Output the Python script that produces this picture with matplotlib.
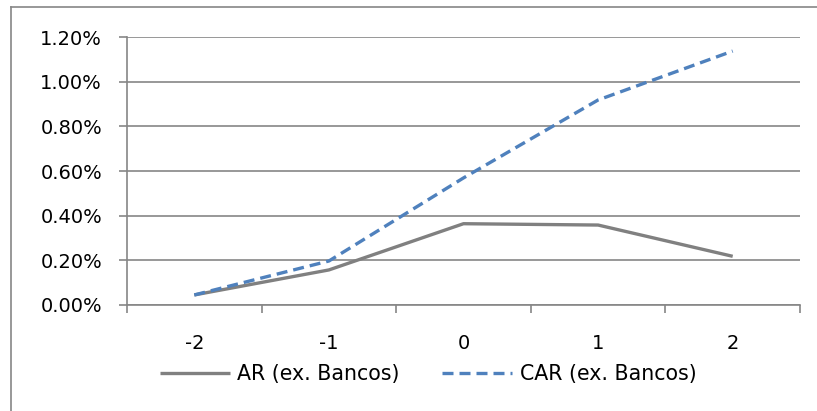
import numpy as np
import matplotlib.pyplot as plt
from matplotlib.lines import Line2D
from matplotlib.ticker import FuncFormatter, FixedLocator

days = ["-2", "-1", "0", "1", "2"]
ar_values = [0.045, 0.157, 0.364, 0.358, 0.218]
car_values = [0.045, 0.197, 0.569, 0.918, 1.137]

plt.rcParams['font.family'] = ['DejaVu Sans']

fig = plt.figure(figsize=(8.17, 4.11), dpi=100)
ax = fig.add_axes([127 / 817, 1 - 305 / 411, 673 / 817, 268 / 411])

x = np.arange(len(days))
ax.plot(x, ar_values, color="#808080", lw=2.4, solid_capstyle="butt",
        label="AR (ex. Bancos)")
ax.plot(x, car_values, color="#4F81BD", lw=2.4, linestyle=(0, (3.3, 1.8)),
        dash_capstyle="butt", label="CAR (ex. Bancos)")

ax.set_xlim(-0.5, len(days) - 0.5)
ax.set_ylim(0, 1.2)
ax.set_yticks(np.arange(0, 1.21, 0.2))
ax.yaxis.set_major_formatter(FuncFormatter(lambda v, p: f"{v:.2f}%"))
ax.grid(axis="y", color="#868686", lw=1.2)
ax.set_axisbelow(True)

# category labels centred, tick marks at category boundaries
ax.xaxis.set_major_locator(FixedLocator(np.arange(-0.5, len(days), 1.0)))
ax.xaxis.set_minor_locator(FixedLocator(x))
ax.set_xticklabels([])
ax.set_xticklabels(days, minor=True)
ax.tick_params(axis="x", which="major", length=6, width=1.2, color="#868686", direction="out")
ax.tick_params(axis="x", which="minor", length=0, pad=21, labelsize=14)
ax.tick_params(axis="y", length=6, width=1.2, color="#868686", labelsize=14, pad=12)

for s in ["top", "right"]:
    ax.spines[s].set_visible(False)
ax.spines["left"].set_color("#868686")
ax.spines["left"].set_linewidth(1.2)
ax.spines["bottom"].set_color("#868686")
ax.spines["bottom"].set_linewidth(1.2)

ax.legend(loc="center", bbox_to_anchor=((428 - 127) / 673, (305 - 374) / 268),
          ncol=2, frameon=False, fontsize=14.8, handlelength=3.4, handletextpad=0.35,
          columnspacing=2.1, borderpad=0, borderaxespad=0)

# outer chart frame (left and top edges visible)
fig.add_artist(Line2D([11 / 817, 11 / 817], [0, 1 - 7 / 411], color="#868686", lw=1.2))
fig.add_artist(Line2D([11 / 817, 1], [1 - 7 / 411, 1 - 7 / 411], color="#868686", lw=1.2))

fig.savefig("out.png", dpi=100)
